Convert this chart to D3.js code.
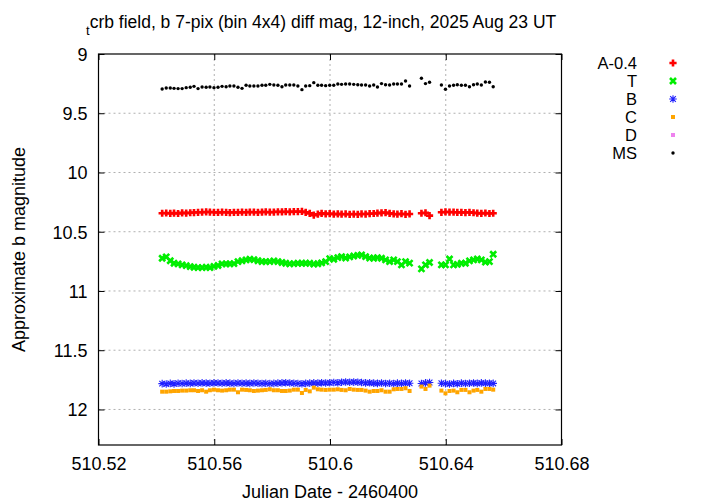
<!DOCTYPE html>
<html>
<head>
<meta charset="utf-8">
<script src="https://cdn.jsdelivr.net/npm/d3@7"></script>
<style>
  html, body { margin: 0; padding: 0; background: #fff; }
  svg { display: block; font-family: "Liberation Sans", Arial, sans-serif; }
</style>
</head>
<body>
<svg id="chart" width="720" height="504"></svg>
<script>
// ---------- data ----------
const titleSub = "t";
const titleMain = "crb field, b 7-pix (bin 4x4) diff mag, 12-inch, 2025 Aug 23 UT";
const xLabel = "Julian Date - 2460400";
const yLabel = "Approximate b magnitude";
const xTicks = [510.52, 510.56, 510.6, 510.64, 510.68];
const xTickLabels = ["510.52", "510.56", "510.6", "510.64", "510.68"];
const yTicks = [9, 9.5, 10, 10.5, 11, 11.5, 12];
const yTickLabels = ["9", "9.5", "10", "10.5", "11", "11.5", "12"];
const seriesNames = ["A-0.4", "T", "B", "C", "D", "MS"];

const jd = [
  510.5420, 510.5434, 510.5448, 510.5461, 510.5475, 510.5489, 510.5503, 510.5517, 510.5530, 510.5544,
  510.5558, 510.5572, 510.5585, 510.5599, 510.5613, 510.5627, 510.5641, 510.5654, 510.5668, 510.5682,
  510.5696, 510.5710, 510.5723, 510.5737, 510.5751, 510.5765, 510.5778, 510.5792, 510.5806, 510.5820,
  510.5834, 510.5847, 510.5861, 510.5875, 510.5889, 510.5903, 510.5916, 510.5930, 510.5944, 510.5958,
  510.5971, 510.5985, 510.5999, 510.6013, 510.6027, 510.6040, 510.6054, 510.6068, 510.6082, 510.6096,
  510.6109, 510.6123, 510.6137, 510.6151, 510.6164, 510.6178, 510.6192, 510.6206, 510.6220, 510.6233,
  510.6247, 510.6261, 510.6275,
  510.6316, 510.6330, 510.6344,
  510.6385, 510.6399, 510.6413, 510.6427, 510.6440, 510.6454, 510.6468, 510.6482, 510.6496, 510.6509,
  510.6523, 510.6537, 510.6551, 510.6564
];

const magA = [
  10.344, 10.342, 10.345, 10.343, 10.346, 10.341, 10.343, 10.340, 10.338, 10.336,
  10.335, 10.333, 10.334, 10.336, 10.337, 10.335, 10.336, 10.338, 10.336, 10.337,
  10.335, 10.336, 10.334, 10.335, 10.336, 10.334, 10.333, 10.335, 10.334, 10.332,
  10.333, 10.331, 10.333, 10.330, 10.331, 10.329, 10.336, 10.345, 10.360, 10.352,
  10.345, 10.350, 10.347, 10.352, 10.349, 10.352, 10.350, 10.353, 10.351, 10.353,
  10.350, 10.351, 10.348, 10.346, 10.343, 10.341, 10.338, 10.345, 10.350, 10.352,
  10.348, 10.353, 10.350,
  10.344, 10.340, 10.364,
  10.336, 10.333, 10.334, 10.335, 10.336, 10.337, 10.338, 10.336, 10.340, 10.343,
  10.345, 10.342, 10.346, 10.344
];

const magT = [
  10.724, 10.712, 10.745, 10.766, 10.772, 10.780, 10.786, 10.795, 10.800, 10.803,
  10.803, 10.800, 10.803, 10.792, 10.785, 10.772, 10.772, 10.772, 10.769, 10.752,
  10.745, 10.738, 10.732, 10.736, 10.745, 10.752, 10.752, 10.752, 10.746, 10.752,
  10.760, 10.766, 10.772, 10.769, 10.766, 10.766, 10.766, 10.766, 10.773, 10.770,
  10.763, 10.752, 10.727, 10.732, 10.718, 10.710, 10.722, 10.712, 10.705, 10.699,
  10.696, 10.710, 10.722, 10.724, 10.719, 10.724, 10.738, 10.752, 10.738, 10.752,
  10.780, 10.752, 10.765,
  10.814, 10.780, 10.760,
  10.780, 10.780, 10.730, 10.780, 10.775, 10.766, 10.766, 10.746, 10.738, 10.730,
  10.738, 10.756, 10.752, 10.690
];

const magB = [
  11.782, 11.785, 11.780, 11.784, 11.779, 11.781, 11.778, 11.780, 11.777, 11.779,
  11.776, 11.778, 11.779, 11.776, 11.777, 11.779, 11.776, 11.778, 11.780, 11.777,
  11.779, 11.778, 11.780, 11.777, 11.779, 11.781, 11.779, 11.782, 11.780, 11.778,
  11.776, 11.774, 11.777, 11.779, 11.781, 11.783, 11.780, 11.778, 11.776, 11.778,
  11.775, 11.777, 11.774, 11.772, 11.774, 11.771, 11.768, 11.770, 11.769, 11.771,
  11.773, 11.776, 11.775, 11.778, 11.780, 11.777, 11.781, 11.779, 11.782, 11.778,
  11.780, 11.777, 11.779,
  11.781, 11.776, 11.773,
  11.779, 11.782, 11.785, 11.780, 11.783, 11.778, 11.781, 11.779, 11.777, 11.780,
  11.776, 11.778, 11.779, 11.780
];

const magC = [
  11.850, 11.850, 11.847, 11.844, 11.844, 11.841, 11.841, 11.838, 11.838, 11.844,
  11.838, 11.850, 11.838, 11.833, 11.838, 11.841, 11.838, 11.833, 11.833, 11.855,
  11.833, 11.835, 11.838, 11.844, 11.841, 11.838, 11.835, 11.830, 11.838, 11.838,
  11.844, 11.844, 11.841, 11.833, 11.833, 11.861, 11.835, 11.847, 11.816, 11.830,
  11.833, 11.835, 11.833, 11.833, 11.830, 11.835, 11.838, 11.827, 11.833, 11.835,
  11.835, 11.841, 11.850, 11.844, 11.844, 11.838, 11.850, 11.850, 11.830, 11.827,
  11.827, 11.821, 11.844,
  11.807, 11.827, 11.799,
  11.841, 11.864, 11.844, 11.841, 11.855, 11.835, 11.835, 11.855, 11.841, 11.835,
  11.850, 11.827, 11.827, 11.833
];

const magD = []; // no D points fall inside the plotted range

const magMS = [
  9.295, 9.287, 9.287, 9.290, 9.292, 9.292, 9.284, 9.281, 9.273, 9.292,
  9.278, 9.281, 9.278, 9.284, 9.281, 9.273, 9.276, 9.270, 9.270, 9.281,
  9.290, 9.264, 9.270, 9.270, 9.270, 9.264, 9.264, 9.256, 9.262, 9.264,
  9.276, 9.262, 9.262, 9.262, 9.270, 9.301, 9.270, 9.267, 9.242, 9.264,
  9.264, 9.267, 9.264, 9.264, 9.253, 9.256, 9.253, 9.253, 9.256, 9.259,
  9.262, 9.262, 9.270, 9.262, 9.279, 9.250, 9.259, 9.262, 9.253, 9.253,
  9.253, 9.228, 9.270,
  9.205, 9.250, 9.239,
  9.262, 9.298, 9.270, 9.264, 9.259, 9.264, 9.264, 9.276, 9.259, 9.253,
  9.262, 9.236, 9.239, 9.276
];

// ---------- layout ----------
const svg = d3.select("#chart");
const plot = { left: 98.5, right: 561.5, top: 54, bottom: 445 };
const FONT = 18;
const LEGEND_FONT = 16.5;
const TITLE_FONT = 17.5;

const x = d3.scaleLinear().domain([510.52, 510.68]).range([plot.left, plot.right]);
const y = d3.scaleLinear().domain([9, 12.3]).range([plot.top, plot.bottom]);

// grid
const grid = svg.append("g");
xTicks.slice(1, -1).forEach(t => {
  grid.append("line")
    .attr("x1", x(t)).attr("x2", x(t)).attr("y1", plot.top).attr("y2", plot.bottom)
    .attr("stroke", "#b0b0b0").attr("stroke-width", 1).attr("stroke-dasharray", "2,3");
});
yTicks.slice(1).forEach(t => {
  grid.append("line")
    .attr("x1", plot.left).attr("x2", plot.right).attr("y1", y(t)).attr("y2", y(t))
    .attr("stroke", "#b0b0b0").attr("stroke-width", 1).attr("stroke-dasharray", "2,3");
});

// axes (inward ticks, mirrored)
const axB = svg.append("g").attr("transform", `translate(0,${plot.bottom})`)
  .call(d3.axisBottom(x).tickValues(xTicks).tickSize(-6).tickFormat((d, i) => xTickLabels[i]));
const axT = svg.append("g").attr("transform", `translate(0,${plot.top})`)
  .call(d3.axisTop(x).tickValues(xTicks).tickSize(-6).tickFormat(""));
const axL = svg.append("g").attr("transform", `translate(${plot.left},0)`)
  .call(d3.axisLeft(y).tickValues(yTicks).tickSize(-6).tickFormat((d, i) => yTickLabels[i]));
const axR = svg.append("g").attr("transform", `translate(${plot.right},0)`)
  .call(d3.axisRight(y).tickValues(yTicks).tickSize(-6).tickFormat(""));
[axB, axT, axL, axR].forEach(a => {
  a.select(".domain").remove();
  a.selectAll("line").attr("stroke", "#000").attr("stroke-width", 1);
  a.selectAll("text").attr("fill", "#000").style("font-size", FONT + "px")
    .style("font-family", "'Liberation Sans', Arial, sans-serif");
});
axB.selectAll("text").attr("y", 12).attr("dy", "0.71em");
axL.selectAll("text").attr("x", -11).attr("dy", "0.35em");

svg.append("rect")
  .attr("x", plot.left).attr("y", plot.top)
  .attr("width", plot.right - plot.left).attr("height", plot.bottom - plot.top)
  .attr("fill", "none").attr("stroke", "#000").attr("stroke-width", 1.2);

// labels
const title = svg.append("text").attr("x", 86).attr("y", 28)
  .style("font-size", TITLE_FONT + "px").attr("fill", "#000");
title.append("tspan").text(titleSub).style("font-size", "13px").attr("dy", 7);
title.append("tspan").text(titleMain).attr("dy", -7);

svg.append("text").attr("x", (plot.left + plot.right) / 2).attr("y", 498)
  .attr("text-anchor", "middle").style("font-size", FONT + "px").text(xLabel);
svg.append("text")
  .attr("transform", `translate(25,${(plot.top + plot.bottom) / 2}) rotate(-90)`)
  .attr("text-anchor", "middle").style("font-size", FONT + "px").text(yLabel);

// ---------- markers ----------
function plusPath(s) { return `M${-s},0H${s}M0,${-s}V${s}`; }
function crossPath(s) { return `M${-s},${-s}L${s},${s}M${-s},${s}L${s},${-s}`; }
function starPath(s) { return plusPath(s) + crossPath(s * 0.75); }

const styles = [
  { kind: "path", d: plusPath(3.6), stroke: "#ff0000", sw: 2.6 },
  { kind: "path", d: crossPath(3.0), stroke: "#00ee00", sw: 2.6 },
  { kind: "path", d: starPath(3.8), stroke: "#2020ff", sw: 1.1 },
  { kind: "square", size: 4, fill: "#ffa500" },
  { kind: "square", size: 4, fill: "#ee82ee" },
  { kind: "circle", r: 1.7, fill: "#000000" }
];
const seriesData = [magA, magT, magB, magC, magD, magMS];

function drawMarker(g, st, cx, cy) {
  if (st.kind === "path") {
    g.append("path").attr("d", st.d).attr("transform", `translate(${cx},${cy})`)
      .attr("fill", "none").attr("stroke", st.stroke).attr("stroke-width", st.sw);
  } else if (st.kind === "square") {
    g.append("rect").attr("x", cx - st.size / 2).attr("y", cy - st.size / 2)
      .attr("width", st.size).attr("height", st.size).attr("fill", st.fill);
  } else {
    g.append("circle").attr("cx", cx).attr("cy", cy).attr("r", st.r).attr("fill", st.fill);
  }
}

const marks = svg.append("g");
seriesData.forEach((vals, si) => {
  const g = marks.append("g");
  vals.forEach((v, i) => drawMarker(g, styles[si], x(jd[i]), y(v)));
});

// ---------- legend ----------
const leg = svg.append("g");
seriesNames.forEach((name, i) => {
  const yy = 63 + i * 18;
  leg.append("text").attr("x", 637).attr("y", yy).attr("dy", "0.35em")
    .attr("text-anchor", "end").style("font-size", LEGEND_FONT + "px").text(name);
  drawMarker(leg, styles[i], 673, yy);
});
</script>
</body>
</html>
